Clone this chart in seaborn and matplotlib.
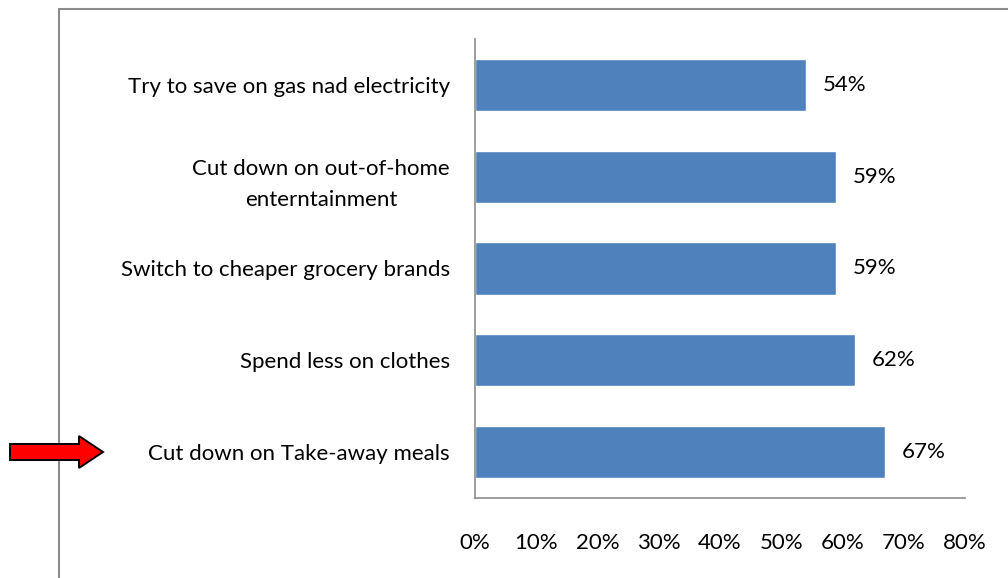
import matplotlib
matplotlib.use("Agg")
import matplotlib.pyplot as plt
import matplotlib.patches as mpatches
import seaborn as sns
import pandas as pd

categories = [
    "Try to save on gas nad electricity",
    "Cut down on out-of-home\nenterntainment",
    "Switch to cheaper grocery brands",
    "Spend less on clothes",
    "Cut down on Take-away meals",
]
values = [54, 59, 59, 62, 67]
xticks = [0, 10, 20, 30, 40, 50, 60, 70, 80]
xticklabels = [f"{t}%" for t in xticks]

sns.set_theme(style="white")
plt.rcParams['font.family'] = ['Lato', 'DejaVu Sans']
plt.rcParams['text.color'] = 'black'
plt.rcParams['xtick.color'] = 'black'
plt.rcParams['ytick.color'] = 'black'

FS = 16

W, H = 1008, 578
fig = plt.figure(figsize=(W / 100, H / 100), dpi=100)
ax = fig.add_axes([475 / W, 1 - 498 / H, (965 - 475) / W, (498 - 39) / H])

df = pd.DataFrame({"cat": categories, "val": values})
sns.barplot(data=df, x="val", y="cat", orient="h", color="#4F81BD",
            saturation=1, width=0.57, ax=ax)

ax.set_xlim(0, 80)
ax.set_ylim(len(categories) - 0.5, -0.5)
ax.set_xticks(xticks)
ax.set_xticklabels(xticklabels, fontsize=FS)
ax.set_xlabel("")
ax.set_ylabel("")
for lab in ax.get_yticklabels():
    lab.set_multialignment("center")
    lab.set_fontsize(FS)
    lab.set_linespacing(1.7)
    lab.set_color("black")
ax.tick_params(axis="both", length=0, labelcolor="black")
ax.tick_params(axis="y", pad=18)
ax.tick_params(axis="x", pad=25)
for s in ["top", "right"]:
    ax.spines[s].set_visible(False)
for s in ["left", "bottom"]:
    ax.spines[s].set_color("#8c8c8c")
    ax.spines[s].set_linewidth(1.2)

for i, v in enumerate(values):
    ax.annotate(f"{v}%", xy=(v, i), xytext=(12, 0), textcoords="offset points",
                va="center", ha="left", fontsize=FS, color="black")

# outer chart border
fig.patches.append(mpatches.Rectangle((59 / W, -0.1), 1.2, 1.1 - 9 / H,
                                      transform=fig.transFigure, fill=False,
                                      edgecolor="#8c8c8c", linewidth=1.5))

# red arrow pointing to the last category
arrow = mpatches.FancyArrow(10 / W, 1 - 452 / H, 93 / W, 0,
                            width=16 / H, head_width=32 / H, head_length=24 / W,
                            length_includes_head=True, transform=fig.transFigure,
                            facecolor="#FF0000", edgecolor="black", linewidth=1.4)
fig.patches.append(arrow)

fig.savefig("out.png", dpi=100)
